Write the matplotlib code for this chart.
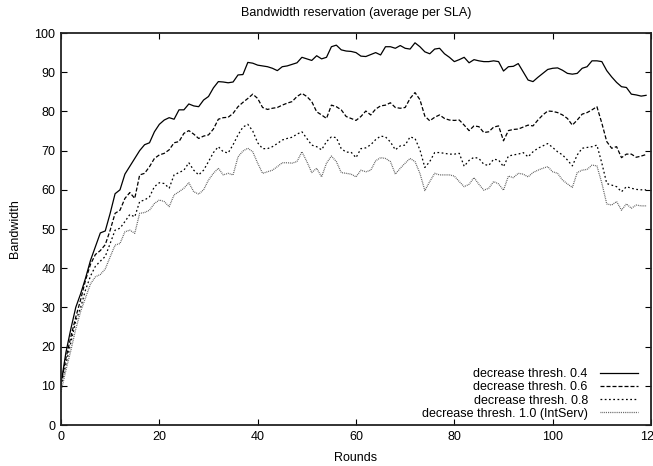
import matplotlib
matplotlib.use("Agg")
import matplotlib.pyplot as plt
import numpy as np

plt.rcParams['font.family'] = ['Liberation Sans', 'DejaVu Sans']

rounds = list(range(0, 120))

thresh_04 = [10.5, 18.5, 24.5, 30, 33.5, 37.5, 42, 45.5, 49, 49.5,
             54, 59, 60, 64, 66, 68, 70, 71.5, 72, 74.8,
             76.7, 77.8, 78.4, 78, 80.4, 80.4, 81.9, 81.4, 81.2, 82.9,
             83.8, 86, 87.6, 87.5, 87.3, 87.5, 89.3, 89.4, 92.5, 92.3,
             91.8, 91.6, 91.4, 91, 90.4, 91.4, 91.6, 92, 92.4, 93.8,
             93.4, 93, 94.2, 93.4, 93.8, 96.5, 96.9, 95.7, 95.4, 95.3,
             95, 94.1, 94, 94.5, 95, 94.4, 96.5, 96.5, 96.1, 96.8,
             96.1, 95.9, 97.5, 96.5, 95.2, 94.7, 95.9, 96.1, 94.7, 93.8,
             92.7, 93.2, 93.8, 92.4, 93.2, 92.9, 92.7, 92.7, 92.9, 92.7,
             90.3, 91.4, 91.5, 92.2, 90.1, 88, 87.6, 88.7, 89.7, 90.7,
             91, 91.1, 90.5, 89.7, 89.5, 89.7, 91, 91.4, 92.9, 92.9,
             92.7, 90.4, 88.8, 87.4, 86.3, 86.1, 84.4, 84.2, 83.9, 84.1]

thresh_06 = [10.5, 17, 22.5, 27.5, 32, 37, 41, 43.5, 44.5, 46,
             49.7, 54, 54.8, 57.8, 59.3, 57.8, 63.8, 64.2, 65.9, 68,
             68.9, 69.3, 70.2, 72, 72.3, 74.4, 75.1, 74.2, 73.1, 73.7,
             74, 75.5, 78, 78.4, 78.5, 79.5, 81.2, 82.3, 83.3, 84.4,
             83.3, 81, 80.5, 80.8, 81, 81.6, 82.1, 82.5, 83.8, 84.6,
             83.8, 82.5, 79.9, 79.1, 78.2, 81.6, 81.2, 80.4, 78.7, 78.2,
             77.7, 78.7, 80.1, 79.1, 80.6, 81.4, 81.6, 82.2, 81, 80.8,
             81, 83.3, 84.8, 83, 78.8, 77.6, 78.5, 79.1, 78.2, 77.8,
             77.7, 77.8, 76.5, 75.1, 76.3, 76.1, 74.6, 74.8, 76, 76.3,
             72.5, 75.1, 75.4, 75.5, 76, 76.5, 76.3, 77.8, 79.1, 80.1,
             80, 79.7, 79.1, 78.2, 76.5, 77.8, 79.3, 79.7, 80.4, 81.2,
             77, 72.3, 70.6, 71, 68.2, 69.1, 69.1, 68.3, 68.6, 69]

thresh_08 = [10, 15.5, 21, 26.5, 30, 34.5, 38, 40.5, 41.8, 43,
             46.3, 49.7, 50.2, 51.9, 53.7, 53.1, 57, 57.4, 58.2, 60.8,
             61.8, 61.6, 60.4, 63.8, 64.4, 65, 66.9, 65, 63.8, 65,
             67.2, 69.5, 71, 69.7, 69.4, 71.5, 74, 76, 76.7, 75,
             72, 70.5, 70.5, 71, 71.8, 72.7, 73.1, 73.4, 74.2, 74.8,
             73.1, 71.4, 71, 70.2, 72.3, 73.5, 73.3, 70.5, 69.6, 69.6,
             68.2, 70.5, 70.7, 71.5, 72.8, 73.7, 73.5, 72.2, 70.2, 71.2,
             71.4, 73.5, 73.1, 70.2, 65.7, 67.2, 69.5, 69.5, 69.3, 69.1,
             69.1, 69.3, 66, 67.5, 68.3, 68, 66.5, 66.2, 67.8, 67.6,
             65.9, 68.6, 68.9, 69.1, 69.5, 68.4, 69.7, 70.6, 71.2, 71.8,
             70.8, 69.7, 68.9, 67.6, 66.1, 68.9, 70.6, 70.8, 71, 71.4,
             66.8, 61.6, 61.2, 60.8, 59.5, 60.8, 60.4, 60.1, 60, 60]

thresh_10 = [8.5, 14, 19, 24.5, 29, 32.5, 36, 37.8, 38.4, 39.8,
             42.9, 45.9, 46.3, 49.3, 49.7, 48.9, 54, 54.2, 54.8, 56.5,
             57.4, 57, 55.7, 58.7, 59.5, 60.4, 61.8, 59.5, 58.9, 60,
             62.5, 64.2, 65.5, 63.8, 64.2, 63.8, 68.4, 69.9, 70.6, 69.7,
             66.8, 64.2, 64.6, 65, 65.9, 66.9, 66.9, 66.8, 67.2, 69.7,
             67.2, 64.4, 65.5, 63.3, 66.8, 68.6, 67.2, 64.4, 64.2, 64,
             63.3, 65, 64.6, 65, 67.4, 68.2, 68, 67.2, 64, 65.5,
             66.8, 68, 67.2, 64.2, 59.8, 62.1, 64.2, 63.8, 63.8, 63.8,
             63.5, 62.1, 60.8, 61.4, 63.1, 61.4, 59.9, 60.4, 62.1, 61.5,
             59.9, 63.5, 63.1, 64.2, 64, 63.3, 64.4, 65, 65.5, 65.9,
             64.6, 64.2, 62.5, 61.5, 60.6, 64.4, 65, 65.2, 66.3, 66.1,
             61.7, 56.4, 56.1, 57, 54.8, 56.4, 55.3, 56.1, 55.9, 55.9]

labels = ["decrease thresh. 0.4", "decrease thresh. 0.6",
          "decrease thresh. 0.8", "decrease thresh. 1.0 (IntServ)"]
x_ticks = [0, 20, 40, 60, 80, 100, 120]
y_ticks = [0, 10, 20, 30, 40, 50, 60, 70, 80, 90, 100]

fig = plt.figure(figsize=(6.53, 4.66), dpi=100)
ax = fig.add_axes([61/653, 41/466, 590/653, 392/466])

series = [thresh_04, thresh_06, thresh_08, thresh_10]
styles = [dict(color='black', linestyle='-', lw=0.9),
          dict(color='black', linestyle=(0, (3.2, 1.6)), lw=0.9),
          dict(color='black', linestyle=(0, (1.4, 2.0)), lw=0.9),
          dict(color='#555555', linestyle=(0, (0.7, 0.8)), lw=0.9)]
for s, lab, st in zip(series, labels, styles):
    ax.plot(rounds, s, label=lab, **st)

ax.set_xlim(0, 120)
ax.set_ylim(0, 100)
ax.set_xticks(x_ticks)
ax.set_yticks(y_ticks)
ax.tick_params(direction='in', length=4, width=0.8, top=True, right=True,
               labelsize=9, pad=4)
for sp in ax.spines.values():
    sp.set_linewidth(1.3)
    sp.set_color('#222222')

ax.set_title("Bandwidth reservation (average per SLA)", fontsize=9, pad=12)
ax.set_xlabel("Rounds", fontsize=9, labelpad=7)
ax.set_ylabel("Bandwidth", fontsize=9, labelpad=10)

leg = ax.legend(loc='lower right', bbox_to_anchor=(1 - 12/590, 4/392),
                frameon=False, markerfirst=False,
                fontsize=9, handlelength=3.0, handletextpad=1.0,
                labelspacing=0.1, borderaxespad=0.0, borderpad=0.1)
for t in leg.get_texts():
    t.set_ha('right')
leg._legend_box.align = "right"

fig.savefig("out.png", dpi=100)
